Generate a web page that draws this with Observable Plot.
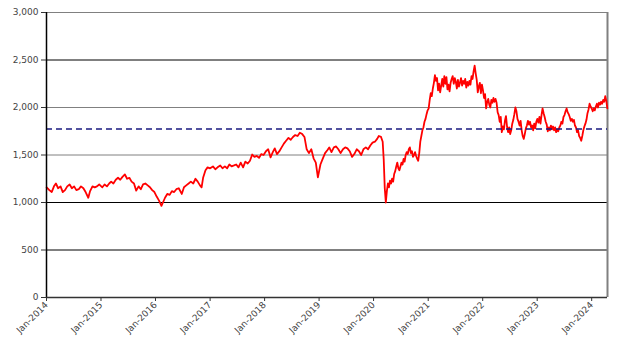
<!DOCTYPE html>
<html>
<head>
<meta charset="utf-8">
<script src="https://cdn.jsdelivr.net/npm/d3@7"></script>
<script src="https://cdn.jsdelivr.net/npm/@observablehq/plot@0.6"></script>
<style>
  html, body { margin: 0; padding: 0; background: #fff; }
  #chart svg { display: block; }
</style>
</head>
<body>
<div id="chart"></div>
<script>
// [date, index level]
const s2014 = [["2014-01-02",1160],["2014-01-20",1130],["2014-02-05",1110],["2014-02-20",1170],["2014-03-05",1200],["2014-03-20",1150],["2014-04-05",1170],["2014-04-20",1110],["2014-05-05",1130],["2014-05-20",1170],["2014-06-05",1190],["2014-06-20",1150],["2014-07-05",1170],["2014-07-20",1130],["2014-08-05",1140],["2014-08-20",1170],["2014-09-05",1150],["2014-09-20",1110],["2014-10-08",1050],["2014-10-20",1120],["2014-11-05",1170],["2014-11-20",1160],["2014-12-05",1170],["2014-12-20",1190]];
const s2015 = [["2015-01-10",1160],["2015-01-25",1190],["2015-02-10",1170],["2015-02-25",1200],["2015-03-10",1220],["2015-03-25",1200],["2015-04-10",1240],["2015-04-25",1260],["2015-05-10",1240],["2015-05-25",1270],["2015-06-10",1295],["2015-06-25",1250],["2015-07-10",1260],["2015-07-25",1220],["2015-08-10",1200],["2015-08-25",1125],["2015-09-10",1170],["2015-09-25",1140],["2015-10-10",1190],["2015-10-25",1200],["2015-11-10",1180],["2015-11-25",1160],["2015-12-10",1130],["2015-12-25",1110]];
const s2016 = [["2016-01-10",1060],["2016-01-25",1020],["2016-02-10",965],["2016-02-20",1000],["2016-03-05",1050],["2016-03-20",1090],["2016-04-05",1080],["2016-04-20",1120],["2016-05-05",1110],["2016-05-20",1140],["2016-06-05",1150],["2016-06-25",1090],["2016-07-10",1160],["2016-07-25",1180],["2016-08-10",1200],["2016-08-25",1220],["2016-09-10",1200],["2016-09-25",1250],["2016-10-10",1220],["2016-10-25",1180],["2016-11-05",1160],["2016-11-15",1260],["2016-12-01",1340],["2016-12-15",1370]];
const s2017 = [["2017-01-01",1360],["2017-01-20",1380],["2017-02-05",1350],["2017-02-20",1370],["2017-03-10",1390],["2017-03-25",1360],["2017-04-10",1380],["2017-04-25",1360],["2017-05-10",1400],["2017-05-25",1380],["2017-06-10",1390],["2017-06-25",1400],["2017-07-10",1370],["2017-07-25",1420],["2017-08-10",1370],["2017-08-25",1430],["2017-09-10",1410],["2017-09-25",1440],["2017-10-10",1505],["2017-10-25",1480],["2017-11-10",1490],["2017-11-25",1470],["2017-12-10",1510],["2017-12-25",1500]];
const s2018 = [["2018-01-10",1540],["2018-01-25",1560],["2018-02-10",1475],["2018-02-25",1530],["2018-03-10",1570],["2018-03-25",1510],["2018-04-10",1540],["2018-04-25",1580],["2018-05-10",1620],["2018-05-25",1650],["2018-06-10",1680],["2018-06-25",1660],["2018-07-10",1690],["2018-07-25",1710],["2018-08-10",1700],["2018-08-25",1735],["2018-09-10",1720],["2018-09-25",1690],["2018-10-10",1560],["2018-10-25",1520],["2018-11-10",1560],["2018-11-25",1465],["2018-12-10",1420],["2018-12-24",1265]];
const s2019 = [["2019-01-10",1400],["2019-01-25",1460],["2019-02-10",1520],["2019-02-25",1550],["2019-03-10",1580],["2019-03-25",1530],["2019-04-10",1580],["2019-04-25",1590],["2019-05-10",1560],["2019-05-25",1520],["2019-06-10",1560],["2019-06-25",1580],["2019-07-10",1570],["2019-07-25",1540],["2019-08-10",1480],["2019-08-25",1510],["2019-09-10",1560],["2019-09-25",1540],["2019-10-10",1500],["2019-10-25",1560],["2019-11-10",1580],["2019-11-25",1560],["2019-12-10",1600],["2019-12-25",1630]];
const s2020 = [["2020-01-10",1640],["2020-01-25",1670],["2020-02-05",1700],["2020-02-20",1690],["2020-03-02",1640],["2020-03-09",1450],["2020-03-16",1150],["2020-03-23",1000],["2020-03-30",1120],["2020-04-06",1200],["2020-04-13",1160],["2020-04-20",1230],["2020-04-27",1200],["2020-05-04",1250],["2020-05-11",1220],["2020-05-18",1300],["2020-05-25",1330],["2020-06-01",1380],["2020-06-08",1420],["2020-06-15",1360],["2020-06-22",1340],["2020-06-29",1380],["2020-07-06",1420],["2020-07-13",1400],["2020-07-20",1460],["2020-07-27",1430],["2020-08-03",1500],["2020-08-10",1530],["2020-08-17",1510],["2020-08-24",1560],["2020-08-31",1580],["2020-09-07",1520],["2020-09-14",1540],["2020-09-21",1480],["2020-09-28",1500],["2020-10-05",1530],["2020-10-12",1490],["2020-10-19",1460],["2020-10-26",1440],["2020-11-02",1520],["2020-11-09",1640],["2020-11-16",1700],["2020-11-23",1760],["2020-11-30",1790],["2020-12-07",1850],["2020-12-14",1880],["2020-12-21",1930],["2020-12-28",1970]];
const s2021 = [["2021-01-04",1990],["2021-01-11",2080],["2021-01-18",2150],["2021-01-25",2120],["2021-02-01",2200],["2021-02-08",2260],["2021-02-15",2340],["2021-02-22",2280],["2021-03-01",2310],["2021-03-08",2180],["2021-03-15",2250],["2021-03-22",2160],["2021-03-29",2230],["2021-04-05",2300],["2021-04-12",2220],["2021-04-19",2330],["2021-04-26",2250],["2021-05-03",2320],["2021-05-10",2190],["2021-05-17",2240],["2021-05-24",2170],["2021-05-31",2260],["2021-06-07",2300],["2021-06-14",2330],["2021-06-21",2250],["2021-06-28",2310],["2021-07-05",2270],["2021-07-12",2200],["2021-07-19",2290],["2021-07-26",2220],["2021-08-02",2260],["2021-08-09",2310],["2021-08-16",2230],["2021-08-23",2280],["2021-08-30",2250],["2021-09-06",2300],["2021-09-13",2210],["2021-09-20",2270],["2021-09-27",2230],["2021-10-04",2280],["2021-10-11",2240],["2021-10-18",2330],["2021-10-25",2300],["2021-11-01",2380],["2021-11-08",2440],["2021-11-15",2360],["2021-11-22",2290],["2021-11-29",2160],["2021-12-06",2220],["2021-12-13",2260],["2021-12-20",2150],["2021-12-27",2240]];
const s2022 = [["2022-01-03",2180],["2022-01-10",2100],["2022-01-17",2140],["2022-01-24",1990],["2022-01-31",2060],["2022-02-07",2090],["2022-02-14",2030],["2022-02-21",2000],["2022-02-28",2080],["2022-03-07",2050],["2022-03-14",2100],["2022-03-21",2060],["2022-03-28",2090],["2022-04-04",2050],["2022-04-11",1950],["2022-04-18",1920],["2022-04-25",1850],["2022-05-02",1900],["2022-05-09",1740],["2022-05-16",1800],["2022-05-23",1770],["2022-05-30",1860],["2022-06-06",1910],["2022-06-13",1800],["2022-06-20",1740],["2022-06-27",1790],["2022-07-04",1720],["2022-07-11",1760],["2022-07-18",1830],["2022-07-25",1870],["2022-08-01",1930],["2022-08-08",2000],["2022-08-15",1960],["2022-08-22",1880],["2022-08-29",1850],["2022-09-05",1810],["2022-09-12",1860],["2022-09-19",1760],["2022-09-26",1700],["2022-10-03",1670],["2022-10-10",1720],["2022-10-17",1780],["2022-10-24",1810],["2022-10-31",1860],["2022-11-07",1820],["2022-11-14",1850],["2022-11-21",1790],["2022-11-28",1810],["2022-12-05",1760],["2022-12-12",1830],["2022-12-19",1780],["2022-12-26",1850]];
const s2023 = [["2023-01-02",1880],["2023-01-09",1840],["2023-01-16",1900],["2023-01-23",1830],["2023-01-30",1920],["2023-02-06",1990],["2023-02-13",1940],["2023-02-20",1900],["2023-02-27",1850],["2023-03-06",1820],["2023-03-13",1750],["2023-03-20",1790],["2023-03-27",1760],["2023-04-03",1810],["2023-04-10",1770],["2023-04-17",1800],["2023-04-24",1760],["2023-05-01",1790],["2023-05-08",1740],["2023-05-15",1770],["2023-05-22",1750],["2023-05-29",1790],["2023-06-05",1810],["2023-06-12",1850],["2023-06-19",1830],["2023-06-26",1900],["2023-07-03",1920],["2023-07-10",1960],["2023-07-17",1990],["2023-07-24",1950],["2023-07-31",1930],["2023-08-07",1900],["2023-08-14",1860],["2023-08-21",1880],["2023-08-28",1850],["2023-09-04",1870],["2023-09-11",1810],["2023-09-18",1790],["2023-09-25",1740],["2023-10-02",1760],["2023-10-09",1700],["2023-10-16",1680],["2023-10-23",1650],["2023-10-30",1700],["2023-11-06",1760],["2023-11-13",1800],["2023-11-20",1830],["2023-11-27",1870],["2023-12-04",1940],["2023-12-11",1980],["2023-12-18",2040],["2023-12-25",2010]];
const s2024 = [["2024-01-01",1990],["2024-01-08",1960],["2024-01-15",1990],["2024-01-22",1970],["2024-01-29",2010],["2024-02-05",2040],["2024-02-12",2000],["2024-02-19",2050],["2024-02-26",2030],["2024-03-04",2060],["2024-03-11",2040],["2024-03-18",2080],["2024-03-25",2060],["2024-04-01",2120],["2024-04-08",2070],["2024-04-15",1990]];

const average = 1775;
const yTicks = [0, 500, 1000, 1500, 2000, 2500, 3000];
const darkGrid = [500, 1000, 2500];
const lightGrid = [1500, 2000, 3000];
const xTicks = ["2014","2015","2016","2017","2018","2019","2020","2021","2022","2023","2024"];
const xStart = "2014-01-01";
const xEnd = "2024-04-16";

const parse = d3.utcParse("%Y-%m-%d");
const series = [].concat(s2014, s2015, s2016, s2017, s2018, s2019, s2020, s2021, s2022, s2023, s2024)
  .map(([d, v]) => ({date: parse(d), value: v}));
const tickDates = xTicks.map(y => parse(y + "-01-01"));
const x0 = parse(xStart), x1 = parse(xEnd);

const chart = Plot.plot({
  width: 617,
  height: 351,
  marginLeft: 46,
  marginRight: 10,
  marginTop: 12,
  marginBottom: 54,
  style: {fontFamily: "'DejaVu Sans', Verdana, sans-serif", fontSize: "9px", color: "#444", background: "#fff"},
  x: {type: "utc", domain: [x0, x1]},
  y: {domain: [0, 3000]},
  marks: [
    Plot.ruleY(lightGrid, {stroke: "#808080", strokeWidth: 1}),
    Plot.ruleY(darkGrid, {stroke: "#000", strokeWidth: 1}),
    Plot.ruleX([x1], {stroke: "#808080", strokeWidth: 2}),
    Plot.line(series, {x: "date", y: "value", stroke: "#ff0000", strokeWidth: 1.8}),
    Plot.ruleY([average], {stroke: "#1a1a80", strokeWidth: 1.5, strokeDasharray: "6,4"}),
    Plot.ruleX([x0], {stroke: "#000", strokeWidth: 1.5}),
    Plot.ruleY([0], {stroke: "#333", strokeWidth: 1.5}),
    Plot.axisY({ticks: yTicks, tickFormat: d3.format(","), tickSize: 5, tickPadding: 3, label: null, stroke: "#333"}),
    Plot.axisX({ticks: tickDates, tickFormat: d3.utcFormat("%b-%Y"), tickSize: 4, tickPadding: 2, tickRotate: -45, label: null, stroke: "#333"})
  ]
});
document.getElementById("chart").appendChild(chart);
</script>
</body>
</html>
